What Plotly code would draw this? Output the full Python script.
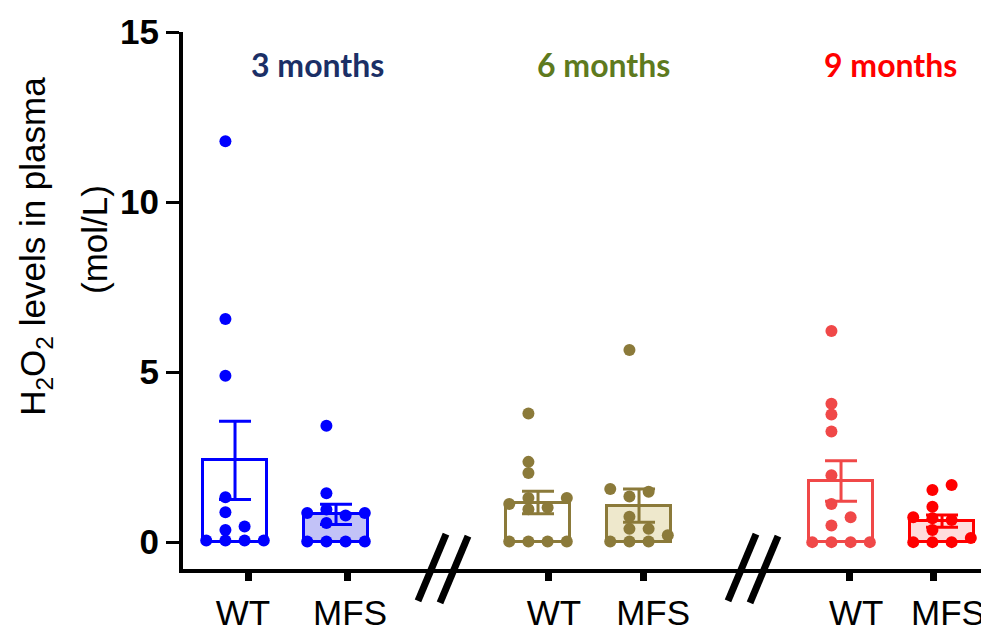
import numpy as np
import plotly.graph_objects as go

# ---------------- data ----------------
groups = ["3 months", "6 months", "9 months"]
genotypes = ["WT", "MFS"]

wt_3m = [11.79, 6.56, 4.89, 1.32, 0.88, 0.46, 0.36, 0.05, 0.05, 0.05, 0.05]
mfs_3m = [3.42, 1.44, 0.96, 0.86, 0.86, 0.78, 0.56, 0.02, 0.02, 0.02, 0.02]
wt_6m = [3.78, 2.36, 2.03, 1.30, 1.30, 1.12, 1.02, 0.97, 0.02, 0.02, 0.02, 0.02]
mfs_6m = [5.65, 1.56, 1.48, 1.34, 0.75, 0.39, 0.39, 0.20, 0.02, 0.02, 0.02]
wt_9m = [6.21, 4.07, 3.75, 3.25, 1.97, 1.12, 0.73, 0.49, 0.0, 0.0, 0.0, 0.0]
mfs_9m = [1.68, 1.53, 1.04, 0.73, 0.70, 0.65, 0.36, 0.12, 0.0, 0.0, 0.0]

y_ticks = [0, 5, 10, 15]
x_tick_labels = ["WT", "MFS", "WT", "MFS", "WT", "MFS"]

# ---------------- layout / style ----------------
series = [wt_3m, mfs_3m, wt_6m, mfs_6m, wt_9m, mfs_9m]
bar_pos = [0, 1, 3, 4, 6, 7]
tick_pos = [0.129, 1.109, 3.099, 4.040, 6.079, 6.911]
label_pos = [0.079, 1.139, 3.158, 4.139, 6.149, 7.059]
line_colors = ["#0000FF", "#0000FF", "#8B7A3A", "#8B7A3A", "#F04848", "#FF0000"]
fill_colors = ["#FFFFFF", "#C2C2F7", "#FFFFFF", "#EEE8CC", "#FFFFFF", "#FFDCDC"]
title_colors = ["#1B2F66", "#5E7A1E", "#FF0000"]
title_pos = [0.82, 3.65, 6.49]
BAR_W = 0.64

# the page body has an 8px default margin; the figure is sized to end at the window edge
OFF = 8
W, H = 989 - OFF, 632 - OFF
PL, PT, PB = 183 - OFF, 32 - OFF, 60   # plot area: x 183..989, y 32..572 in window pixels


def swarm(values, step=0.19, diam=0.3):
    slots = [-0.5 * step, 0.5 * step, -1.5 * step, 1.5 * step]
    placed = []
    offs = [0.0] * len(values)
    for i in np.argsort(values, kind="stable"):
        v = values[i]
        choice = None
        for s in slots:
            if all(abs(v - pv) >= diam for ps, pv in placed if ps == s):
                choice = s
                break
        if choice is None:
            choice = max(slots, key=lambda s: min([abs(v - pv) for ps, pv in placed if ps == s] or [99]))
        placed.append((choice, v))
        offs[i] = choice
    return offs


fig = go.Figure()

for vals, xp, lc, fc in zip(series, bar_pos, line_colors, fill_colors):
    arr = np.array(vals, dtype=float)
    mean = arr.mean()
    sem = arr.std(ddof=1) / np.sqrt(len(arr))
    fig.add_trace(go.Bar(
        x=[xp], y=[mean], width=BAR_W,
        marker=dict(color=fc, line=dict(color=lc, width=3)),
        error_y=dict(type="data", array=[sem], symmetric=True, color=lc, thickness=3, width=16),
        showlegend=False, hoverinfo="skip",
    ))

for vals, xp, lc in zip(series, bar_pos, line_colors):
    offs = swarm(vals)
    fig.add_trace(go.Scatter(
        x=[xp + o for o in offs], y=vals, mode="markers",
        marker=dict(color=lc, size=12, line=dict(width=0)),
        showlegend=False, hoverinfo="skip",
    ))

# invisible trace for the label axis
fig.add_trace(go.Scatter(x=[label_pos[0]], y=[0], xaxis="x2", mode="markers",
                         marker=dict(opacity=0), showlegend=False, hoverinfo="skip"))

XR = [-0.515, 7.465]
fig.update_layout(
    width=W, height=H,
    margin=dict(l=PL, r=0, t=PT, b=PB),
    paper_bgcolor="white", plot_bgcolor="white",
    bargap=0, barmode="overlay",
    xaxis=dict(range=XR, showgrid=False, zeroline=False, showline=True, linecolor="black", linewidth=4,
               tickvals=tick_pos, showticklabels=False, ticks="outside", ticklen=8, tickwidth=7,
               tickcolor="black", fixedrange=True),
    xaxis2=dict(range=XR, overlaying="x", side="bottom", showgrid=False, zeroline=False, showline=False,
                tickvals=label_pos, ticktext=x_tick_labels, ticks="outside", ticklen=13,
                tickcolor="rgba(0,0,0,0)",
                tickfont=dict(family="Liberation Sans", size=35, color="black"), fixedrange=True),
    yaxis=dict(range=[-0.79, 15], showgrid=False, zeroline=False, showline=True, linecolor="black", linewidth=4,
               tickvals=y_ticks, ticks="outside", ticklen=13, tickwidth=3, tickcolor="black",
               tickfont=dict(family="Liberation Sans", size=35, color="black", weight="bold"), fixedrange=True),
)

for g, c, xp in zip(groups, title_colors, title_pos):
    fig.add_annotation(x=xp, y=14.03, xref="x", yref="y", text="<b>" + g + "</b>", showarrow=False,
                       font=dict(family="Lato", size=32, color=c), xanchor="center", yanchor="middle")

fig.add_annotation(x=-0.1836, y=0.6, xref="paper", yref="paper", textangle=-90,
                   text="H<sub>2</sub>O<sub>2</sub> levels in plasma", showarrow=False,
                   font=dict(family="Liberation Sans", size=35, color="black"), xanchor="center", yanchor="middle")
fig.add_annotation(x=-0.109, y=0.613, xref="paper", yref="paper", textangle=-90,
                   text="(mol/L)", showarrow=False,
                   font=dict(family="Liberation Sans", size=35, color="black"), xanchor="center", yanchor="middle")


# axis break marks (//), given in window pixels and converted to plot-area fractions
def px2paper(px, py):
    return (px - 183) / 806, (572 - py) / 540


for (x0, y0, x1, y1) in [(418, 604, 446, 537), (440, 606, 468, 539),
                         (728, 604, 756, 537), (750, 606, 778, 539)]:
    a0, b0 = px2paper(x0, y0)
    a1, b1 = px2paper(x1, y1)
    fig.add_shape(type="line", xref="paper", yref="paper", x0=a0, y0=b0, x1=a1, y1=b1,
                  line=dict(color="black", width=7), layer="above")

fig.write_html("out.html")
